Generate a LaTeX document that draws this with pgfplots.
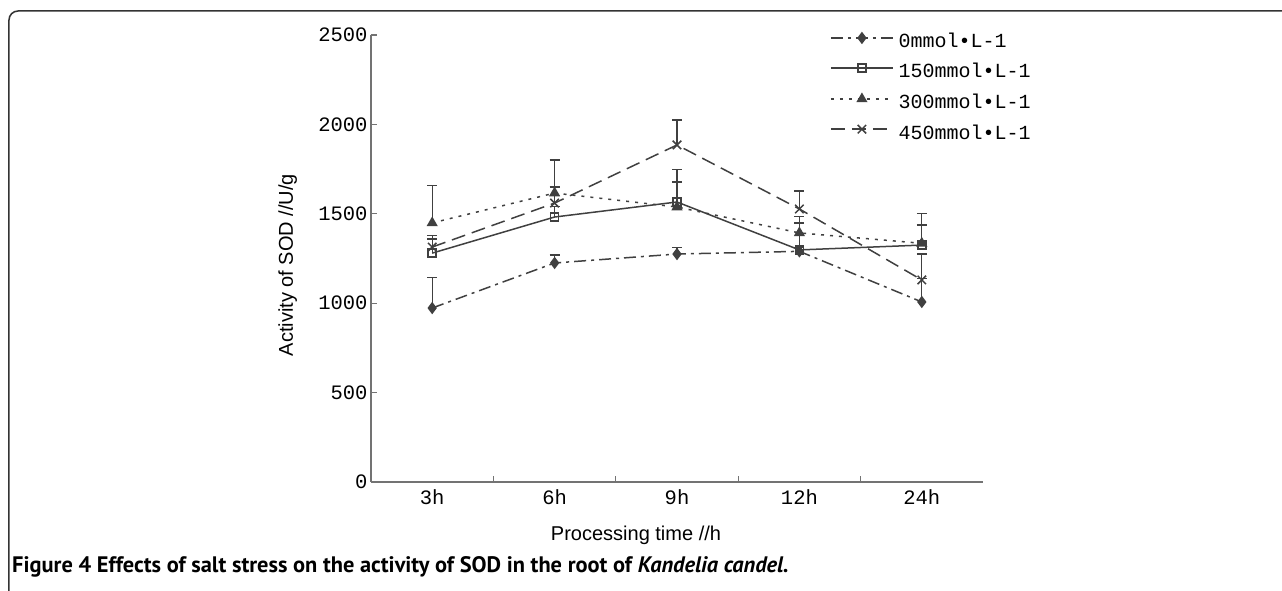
\documentclass[border=0pt]{standalone}
\usepackage{fontspec}
\usepackage{pgfplots}
\pgfplotsset{compat=1.18}
\setmainfont{Liberation Sans}
\newfontfamily\capfont{PT Sans}
\newfontfamily\monofont{Liberation Mono}

\begin{document}
\begin{tikzpicture}[x=1pt,y=1pt]
% axis box south west sits at the origin; reference pixel (px,py) -> (px-371, 482-py)
\useasboundingbox (-371,-109) rectangle (911,482);
\draw[line width=1.5pt, black!80, rounded corners=9pt] (930,471) -- (-362,471) -- (-362,-130);
\node[anchor=base west, inner sep=0pt] at (-359,-91)
  {\capfont\fontsize{22.4}{24}\selectfont\bfseries Figure 4 Effects of salt stress on the activity of SOD in the root of \textit{Kandelia candel.}};

\begin{axis}[
  scale only axis, width=612pt, height=447pt,
  xmin=-0.5, xmax=4.5, ymin=0, ymax=2500,
  axis lines*=left, clip=false,
  axis line style={black!55, line width=1.5pt},
  tick align=inside, tick style={black!55, line width=1.2pt},
  major tick length=6pt, minor tick length=6pt,
  xtick={0,...,4}, xticklabels={3h,6h,9h,12h,24h},
  minor xtick={0.5,1.5,2.5,3.5},
  x tick style={draw=none},
  minor x tick style={draw=black!55, line width=1.2pt},
  ytick={0,500,1000,1500,2000,2500},
  yticklabels={0,500,1000,1500,2000,2500},
  tick label style={font=\monofont\fontsize{20.5}{20}\selectfont},
  xticklabel style={yshift=-4pt},
  xlabel={Processing time //h}, ylabel={Activity of SOD //U/g},
  every axis x label/.style={at={(axis description cs:0.433,-0.119)}, anchor=center,
    font=\fontsize{20}{22}\selectfont},
  every axis y label/.style={at={(axis description cs:-0.136,0.485)}, rotate=90, anchor=center,
    font=\fontsize{20}{22}\selectfont},
  legend cell align=left,
  legend style={at={(0.75,1.005)}, anchor=north west, draw=none, fill=none,
    inner sep=0pt, row sep=16pt, font=\monofont\fontsize{20}{20}\selectfont,
    nodes={inner sep=0pt, text height=10pt, text depth=0pt},
    /tikz/every odd column/.append style={column sep=5pt}},
  legend image code/.code={\draw[mark repeat=2, mark phase=2, #1]
    plot coordinates {(0pt,5pt) (31pt,5pt) (62pt,5pt)};},
  every axis plot/.append style={black!75, line width=1.5pt},
  error bars/error bar style={solid, line width=1.2pt, black!75},
  error bars/error mark options={solid, line width=1.2pt, black!75, mark size=5pt, rotate=90},
]
\addplot[dash pattern=on 12pt off 5pt on 3pt off 5pt, mark=diamond*, mark size=5pt, mark options={solid},
  error bars/.cd, y dir=plus, y explicit]
  coordinates {(0,973) +- (0,170) (1,1225) +- (0,45) (2,1275) +- (0,35) (3,1290) +- (0,20) (4,1007) +- (0,130)};
\addlegendentry{0mmol•L-1}
\addplot[solid, mark=square, mark size=4pt, mark options={solid},
  error bars/.cd, y dir=plus, y explicit]
  coordinates {(0,1280) +- (0,100) (1,1482) +- (0,60) (2,1566) +- (0,180) (3,1298) +- (0,150) (4,1325) +- (0,112)};
\addlegendentry{150mmol•L-1}
\addplot[dash pattern=on 3pt off 6pt, mark=triangle*, mark size=5pt, mark options={solid},
  error bars/.cd, y dir=plus, y explicit]
  coordinates {(0,1449) +- (0,210) (1,1616) +- (0,185) (2,1538) +- (0,140) (3,1393) +- (0,90) (4,1335) +- (0,165)};
\addlegendentry{300mmol•L-1}
\addplot[dash pattern=on 14pt off 7pt, mark=x, mark size=6pt, mark options={solid},
  error bars/.cd, y dir=plus, y explicit]
  coordinates {(0,1314) +- (0,45) (1,1560) +- (0,90) (2,1885) +- (0,140) (3,1527) +- (0,100) (4,1130) +- (0,145)};
\addlegendentry{450mmol•L-1}
\end{axis}
\end{tikzpicture}
\end{document}
